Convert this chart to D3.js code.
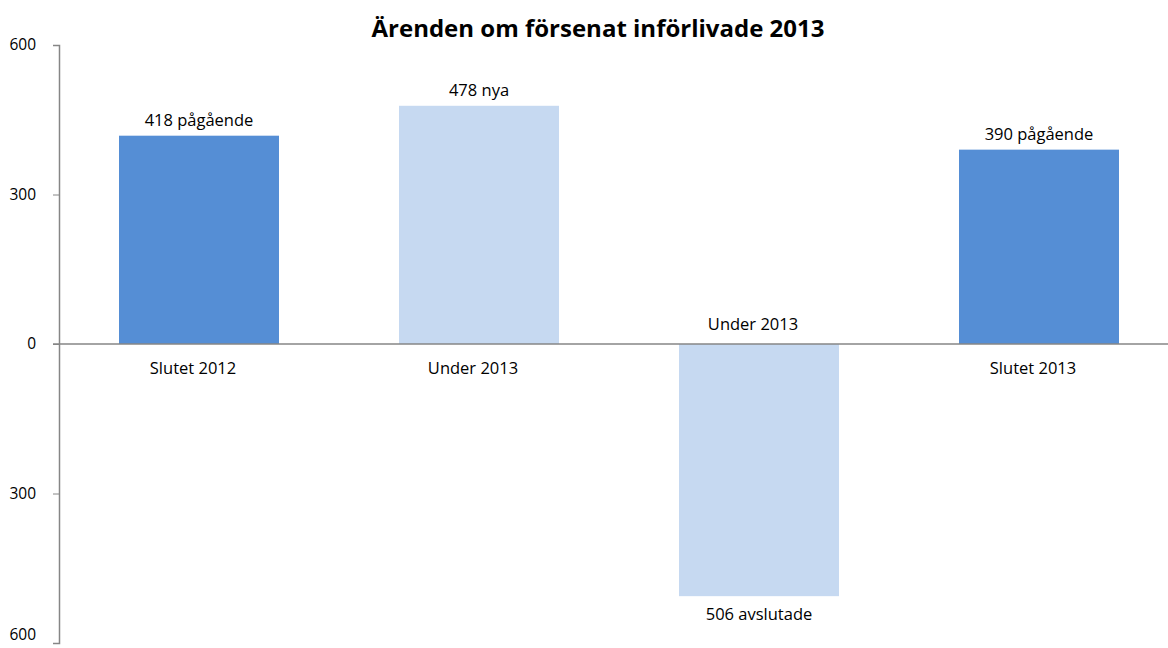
<!DOCTYPE html>
<html>
<head>
<meta charset="utf-8">
<script src="https://cdn.jsdelivr.net/npm/d3@7"></script>
<style>
  body { margin: 0; background: #fff; }
  text { font-family: "Open Sans", sans-serif; fill: #000; }
</style>
</head>
<body>
<div id="chart"></div>
<script>
// data
var categories = ["Slutet 2012", "Under 2013", "Under 2013 ", "Slutet 2013"];
var values = [418, 478, -506, 390];
var valueLabels = ["418 pågående", "478 nya", "506 avslutade", "390 pågående"];
var barKinds = ["stock", "flow", "flow", "stock"];
var yTicks = [600, 300, 0, -300, -600];

var width = 1168, height = 648;

var svg = d3.select("#chart")
    .append("svg")
    .attr("width", width)
    .attr("height", height);

// title
svg.append("text")
    .attr("x", 598)
    .attr("y", 37)
    .attr("text-anchor", "middle")
    .style("font-weight", "bold")
    .style("font-size", "24px")
    .text("Ärenden om försenat införlivade 2013");

var x = d3.scaleBand()
    .domain(categories)
    .range([59, 1179])
    .paddingInner(3 / 7)
    .paddingOuter(3 / 14);

var y = d3.scaleLinear()
    .domain([-600, 600])
    .range([643, 45]);

var colors = { stock: "#558ed5", flow: "#c6d9f1" };

// bars
svg.selectAll("rect.bar")
    .data(values)
    .enter()
    .append("rect")
    .attr("class", "bar")
    .attr("x", function (d, i) { return x(categories[i]); })
    .attr("y", function (d) { return y(Math.max(d, 0)); })
    .attr("width", x.bandwidth())
    .attr("height", function (d) { return Math.abs(y(d) - y(0)); })
    .attr("fill", function (d, i) { return colors[barKinds[i]]; });

// y axis, labels without sign
var yAxis = d3.axisLeft(y)
    .tickValues(yTicks)
    .tickSize(6)
    .tickPadding(17)
    .tickFormat(function (d) { return Math.abs(d); });

var gy = svg.append("g")
    .attr("transform", "translate(59,0)")
    .call(yAxis);
gy.select(".domain").attr("stroke", "#868686").attr("stroke-width", 1.5);
gy.selectAll(".tick line").attr("stroke", "#868686");
gy.selectAll(".tick text")
    .style("font-size", "15.5px")
    .attr("fill", "#000");
// keep the lowest label inside the picture
gy.selectAll(".tick text")
    .filter(function (d) { return d === -600; })
    .attr("dy", "-0.2em");

// zero line
svg.append("line")
    .attr("x1", 53)
    .attr("x2", width)
    .attr("y1", y(0))
    .attr("y2", y(0))
    .attr("stroke", "#868686")
    .attr("stroke-width", 1.5);

// category labels (above the axis for negative bars)
svg.selectAll("text.cat")
    .data(values)
    .enter()
    .append("text")
    .attr("class", "cat")
    .attr("x", function (d, i) { return x(categories[i]) + x.bandwidth() / 2 - 6; })
    .attr("y", function (d) { return d < 0 ? y(0) - 14 : y(0) + 30; })
    .attr("text-anchor", "middle")
    .style("font-size", "16.5px")
    .text(function (d, i) { return categories[i].trim(); });

// value labels
svg.selectAll("text.val")
    .data(values)
    .enter()
    .append("text")
    .attr("class", "val")
    .attr("x", function (d, i) { return x(categories[i]) + x.bandwidth() / 2; })
    .attr("y", function (d) { return d < 0 ? y(d) + 24 : y(d) - 10; })
    .attr("text-anchor", "middle")
    .style("font-size", "16.5px")
    .text(function (d, i) { return valueLabels[i]; });
</script>
</body>
</html>
